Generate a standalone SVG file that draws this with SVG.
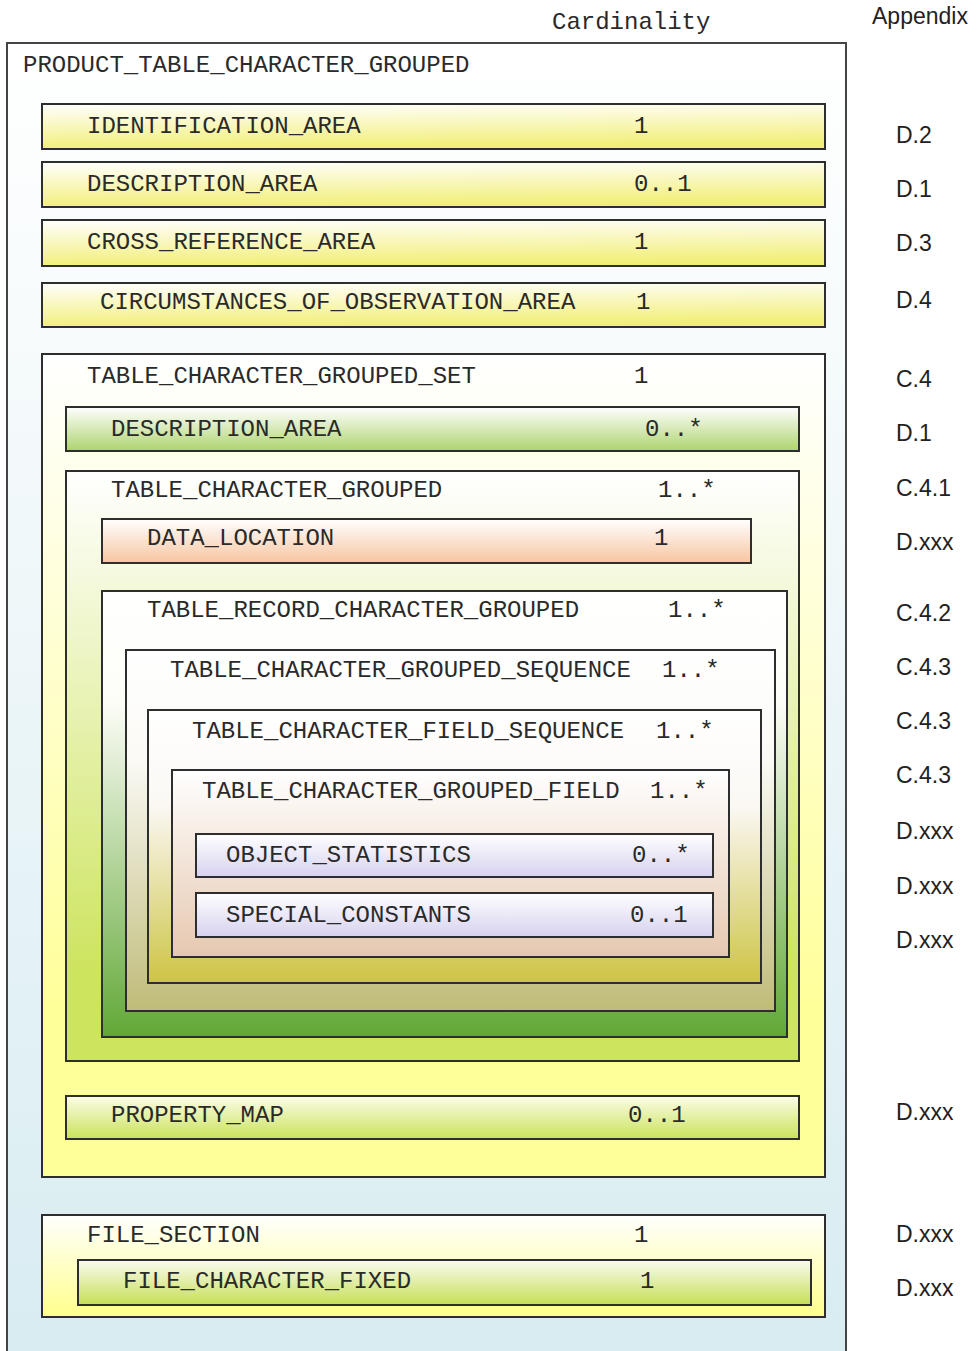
<svg xmlns="http://www.w3.org/2000/svg" width="977" height="1351" viewBox="0 0 977 1351">
<style>
.b{stroke:#2e2e2e;stroke-width:2}
.t{font-family:"Liberation Mono","Courier New",monospace;font-size:24px;fill:#2a2a2a}
.a{font-family:"Liberation Sans",Arial,sans-serif;font-size:23px;fill:#222}
</style>
<defs>
<linearGradient id="gOuter" x1="0" y1="0" x2="0" y2="1"><stop offset="0" stop-color="#ffffff"/><stop offset="1" stop-color="#d8ecf1"/></linearGradient>
<linearGradient id="gY" x1="0" y1="0" x2="0.15" y2="1"><stop offset="0" stop-color="#ffffff"/><stop offset="1" stop-color="#f2ef78"/></linearGradient>
<linearGradient id="gSet" x1="0" y1="0" x2="0" y2="1"><stop offset="0" stop-color="#ffffff"/><stop offset="0.8" stop-color="#ffff99"/><stop offset="1" stop-color="#ffff99"/></linearGradient>
<linearGradient id="gDA" x1="0" y1="0" x2="0" y2="1"><stop offset="0" stop-color="#ffffff"/><stop offset="1" stop-color="#aed36e"/></linearGradient>
<linearGradient id="gTCG" x1="0" y1="0" x2="0" y2="1"><stop offset="0" stop-color="#ffffff"/><stop offset="0.85" stop-color="#cde45e"/><stop offset="1" stop-color="#cde45e"/></linearGradient>
<linearGradient id="gPeach" x1="0" y1="0" x2="0" y2="1"><stop offset="0" stop-color="#ffffff"/><stop offset="1" stop-color="#f7c5a0"/></linearGradient>
<linearGradient id="gRec" x1="0" y1="0" x2="0" y2="1"><stop offset="0" stop-color="#ffffff"/><stop offset="0.25" stop-color="#fdfdf8"/><stop offset="1" stop-color="#62a836"/></linearGradient>
<linearGradient id="gSeq" x1="0" y1="0" x2="0" y2="1"><stop offset="0" stop-color="#ffffff"/><stop offset="0.3" stop-color="#fbfaf6"/><stop offset="1" stop-color="#bfbb78"/></linearGradient>
<linearGradient id="gFS" x1="0" y1="0" x2="0" y2="1"><stop offset="0" stop-color="#ffffff"/><stop offset="0.35" stop-color="#fbf8f4"/><stop offset="1" stop-color="#cdc444"/></linearGradient>
<linearGradient id="gFld" x1="0" y1="0" x2="0" y2="1"><stop offset="0" stop-color="#ffffff"/><stop offset="1" stop-color="#e6c8b0"/></linearGradient>
<linearGradient id="gLav" x1="0" y1="0" x2="0" y2="1"><stop offset="0" stop-color="#ffffff"/><stop offset="1" stop-color="#d6d1ef"/></linearGradient>
<linearGradient id="gProp" x1="0" y1="0" x2="0" y2="1"><stop offset="0" stop-color="#fdfde8"/><stop offset="1" stop-color="#c9e25a"/></linearGradient>
<linearGradient id="gFile" x1="0" y1="0" x2="0" y2="1"><stop offset="0" stop-color="#ffffff"/><stop offset="1" stop-color="#ffff8c"/></linearGradient>
<linearGradient id="gFC" x1="0" y1="0" x2="0" y2="1"><stop offset="0" stop-color="#fbfbf0"/><stop offset="1" stop-color="#c5df55"/></linearGradient>
</defs>

<g id="headers">
<text class="t" x="552" y="29">Cardinality</text>
<text class="a" x="872" y="24">Appendix</text>
</g>

<g id="product_table_character_grouped">
<rect x="7" y="43" width="839" height="1320" fill="url(#gOuter)" stroke="#444" stroke-width="2"/>
<text class="t" x="23" y="72">PRODUCT_TABLE_CHARACTER_GROUPED</text>
</g>

<g id="identification_area">
<rect class="b" x="42" y="104" width="783" height="45" fill="url(#gY)"/>
<text class="t" x="87" y="133">IDENTIFICATION_AREA</text>
<text class="t" x="634" y="133">1</text>
<text class="a" x="896" y="143">D.2</text>
</g>

<g id="description_area_1">
<rect class="b" x="42" y="162" width="783" height="45" fill="url(#gY)"/>
<text class="t" x="87" y="191">DESCRIPTION_AREA</text>
<text class="t" x="634" y="191">0..1</text>
<text class="a" x="896" y="197">D.1</text>
</g>

<g id="cross_reference_area">
<rect class="b" x="42" y="220" width="783" height="46" fill="url(#gY)"/>
<text class="t" x="87" y="249">CROSS_REFERENCE_AREA</text>
<text class="t" x="634" y="249">1</text>
<text class="a" x="896" y="251">D.3</text>
</g>

<g id="circumstances_of_observation_area">
<rect class="b" x="42" y="283" width="783" height="44" fill="url(#gY)"/>
<text class="t" x="100" y="309">CIRCUMSTANCES_OF_OBSERVATION_AREA</text>
<text class="t" x="636" y="309">1</text>
<text class="a" x="896" y="308">D.4</text>
</g>

<g id="table_character_grouped_set">
<rect class="b" x="42" y="354" width="783" height="823" fill="url(#gSet)"/>
<text class="t" x="87" y="383">TABLE_CHARACTER_GROUPED_SET</text>
<text class="t" x="634" y="383">1</text>
<text class="a" x="896" y="387">C.4</text>
</g>

<g id="description_area_2">
<rect class="b" x="66" y="407" width="733" height="44" fill="url(#gDA)"/>
<text class="t" x="111" y="436">DESCRIPTION_AREA</text>
<text class="t" x="645" y="436">0..*</text>
<text class="a" x="896" y="441">D.1</text>
</g>

<g id="table_character_grouped">
<rect class="b" x="66" y="471" width="733" height="590" fill="url(#gTCG)"/>
<text class="t" x="111" y="497">TABLE_CHARACTER_GROUPED</text>
<text class="t" x="658" y="497">1..*</text>
<text class="a" x="896" y="496">C.4.1</text>
</g>

<g id="data_location">
<rect class="b" x="102" y="519" width="649" height="44" fill="url(#gPeach)"/>
<text class="t" x="147" y="545">DATA_LOCATION</text>
<text class="t" x="654" y="545">1</text>
<text class="a" x="896" y="550">D.xxx</text>
</g>

<g id="table_record_character_grouped">
<rect class="b" x="102" y="591" width="685" height="446" fill="url(#gRec)"/>
<text class="t" x="147" y="617">TABLE_RECORD_CHARACTER_GROUPED</text>
<text class="t" x="668" y="617">1..*</text>
<text class="a" x="896" y="621">C.4.2</text>
</g>

<g id="table_character_grouped_sequence">
<rect class="b" x="126" y="650" width="649" height="361" fill="url(#gSeq)"/>
<text class="t" x="170" y="677">TABLE_CHARACTER_GROUPED_SEQUENCE</text>
<text class="t" x="662" y="677">1..*</text>
<text class="a" x="896" y="675">C.4.3</text>
</g>

<g id="table_character_field_sequence">
<rect class="b" x="148" y="710" width="613" height="273" fill="url(#gFS)"/>
<text class="t" x="192" y="738">TABLE_CHARACTER_FIELD_SEQUENCE</text>
<text class="t" x="656" y="738">1..*</text>
<text class="a" x="896" y="729">C.4.3</text>
</g>

<g id="table_character_grouped_field">
<rect class="b" x="172" y="770" width="557" height="187" fill="url(#gFld)"/>
<text class="t" x="202" y="798">TABLE_CHARACTER_GROUPED_FIELD</text>
<text class="t" x="650" y="798">1..*</text>
<text class="a" x="896" y="783">C.4.3</text>
</g>

<g id="object_statistics">
<rect class="b" x="196" y="834" width="517" height="43" fill="url(#gLav)"/>
<text class="t" x="226" y="862">OBJECT_STATISTICS</text>
<text class="t" x="632" y="862">0..*</text>
<text class="a" x="896" y="839">D.xxx</text>
</g>

<g id="special_constants">
<rect class="b" x="196" y="893" width="517" height="44" fill="url(#gLav)"/>
<text class="t" x="226" y="922">SPECIAL_CONSTANTS</text>
<text class="t" x="630" y="922">0..1</text>
<text class="a" x="896" y="894">D.xxx</text>
</g>

<g id="extra_appendix">
<text class="a" x="896" y="948">D.xxx</text>
</g>

<g id="property_map">
<rect class="b" x="66" y="1096" width="733" height="43" fill="url(#gProp)"/>
<text class="t" x="111" y="1122">PROPERTY_MAP</text>
<text class="t" x="628" y="1122">0..1</text>
<text class="a" x="896" y="1120">D.xxx</text>
</g>

<g id="file_section">
<rect class="b" x="42" y="1215" width="783" height="102" fill="url(#gFile)"/>
<text class="t" x="87" y="1242">FILE_SECTION</text>
<text class="t" x="634" y="1242">1</text>
<text class="a" x="896" y="1242">D.xxx</text>
</g>

<g id="file_character_fixed">
<rect class="b" x="78" y="1260" width="733" height="45" fill="url(#gFC)"/>
<text class="t" x="123" y="1288">FILE_CHARACTER_FIXED</text>
<text class="t" x="640" y="1288">1</text>
<text class="a" x="896" y="1296">D.xxx</text>
</g>

<g id="connectors"></g>
</svg>
